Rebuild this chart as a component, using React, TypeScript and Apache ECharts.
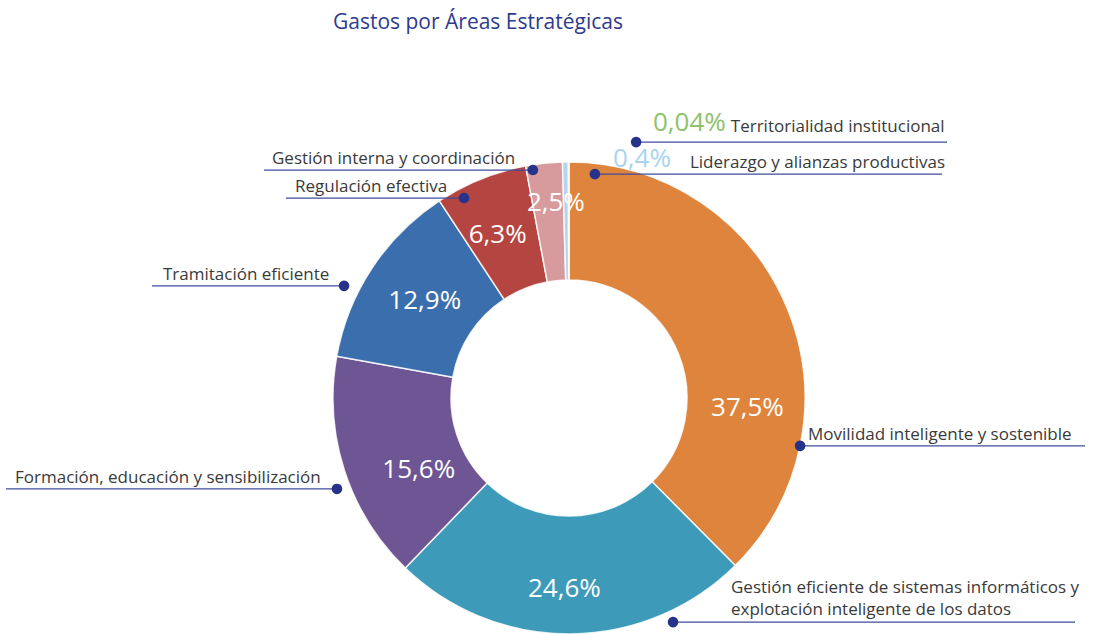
import React, { useEffect, useRef } from "react";
import * as echarts from "echarts";

// ---- data ----
const categories = [
  "Movilidad inteligente y sostenible",
  "Gestión eficiente de sistemas informáticos y\nexplotación inteligente de los datos",
  "Formación, educación y sensibilización",
  "Tramitación eficiente",
  "Regulación efectiva",
  "Gestión interna y coordinación",
  "Liderazgo y alianzas productivas",
  "Territorialidad institucional",
];
const values = [37.5, 24.6, 15.6, 12.9, 6.3, 2.5, 0.4, 0.04];
const percentTexts = ["37,5%", "24,6%", "15,6%", "12,9%", "6,3%", "2,5%", "0,4%", "0,04%"];
const insideLabelShown = [true, true, true, true, true, true, false, false];
const colors = ["#DE843C", "#3D9AB8", "#6E5593", "#3B6EAD", "#B44541", "#D79B9D", "#B9D3EA", "#8DC26B"];

// ---- layout (styles / positions) ----
const W = 1093;
const H = 634;
const CX = 569;
const CY = 398;
const R_OUT = 236;
const R_IN = 118;
const FONT = "'Open Sans', sans-serif";
const NAVY = "#27338A";
const LINE = "#3E4B9C";
const TEXT = "#3A3A3A";

// inside percentage label nudges
const insideNudge: number[][] = [[12, 77], [-6, 9], [21, 15], [6, 0], [-4, 2], [6, -18], [0, 0], [0, 0]];

// callouts: dot at angle (deg clockwise from top) and radius factor, text start, far end of the underline
const callouts = [
  { angle: 101.7, rf: 1.0, textX: 808, end: 1085, lift: 4 },
  { angle: 155.1, rf: 1.047, textX: 731, end: 1075, lift: 5 },
  { angle: 248.6, rf: 1.056, textX: 15, end: 6, lift: 4 },
  { angle: 296.5, rf: 1.065, textX: 163, end: 152, lift: 4 },
  { angle: 332.3, rf: 0.957, textX: 295, end: 286, lift: 4 },
  { angle: 351, rf: 0.978, textX: 272, end: 264, lift: 4 },
  { angle: 6.6, rf: 0.955, textX: 613, end: 942, lift: 4 },
  { angle: 14.7, rf: 1.121, textX: 653, end: 947, lift: 8 },
];
const nameGap = [0, 0, 0, 0, 0, 0, 19, 5];

function dotPos(i: number): [number, number] {
  const c = callouts[i];
  const a = (c.angle * Math.PI) / 180;
  return [CX + R_OUT * c.rf * Math.sin(a), CY - R_OUT * c.rf * Math.cos(a)];
}

export default function App() {
  const ref = useRef<HTMLDivElement>(null);
  useEffect(() => {
    if (!ref.current) return;
    const chart = echarts.init(ref.current, undefined, { renderer: "svg" });

    const dataA = categories.map((name, i) => ({
      name,
      value: values[i],
      itemStyle: { color: colors[i] },
      label: { show: insideLabelShown[i] },
    }));
    const dataB = categories.map((name, i) => ({ name, value: values[i] }));

    const option: any = {
      animation: false,
      title: {
        text: "Gastos por Áreas Estratégicas",
        left: 328,
        top: 5,
        textStyle: { fontFamily: FONT, fontSize: 21, fontWeight: "normal", color: "#2E3A8C" },
      },
      series: [
        {
          type: "pie",
          center: [CX, CY],
          radius: [R_IN, R_OUT],
          startAngle: 90,
          clockwise: true,
          avoidLabelOverlap: false,
          silent: true,
          itemStyle: { borderColor: "rgba(255,255,255,0.85)", borderWidth: 1.5 },
          label: {
            position: "inside",
            formatter: (p: any) => percentTexts[p.dataIndex],
            color: "#fff",
            fontFamily: FONT,
            fontSize: 26,
          },
          labelLine: { show: false },
          labelLayout: (p: any) => {
            const n = insideNudge[p.dataIndex];
            return { dx: n[0], dy: n[1] };
          },
          data: dataA,
        },
        {
          type: "pie",
          z: 3,
          center: [CX, CY],
          radius: [R_IN, R_OUT],
          startAngle: 90,
          clockwise: true,
          avoidLabelOverlap: false,
          silent: true,
          itemStyle: { color: "rgba(0,0,0,0)", borderWidth: 0 },
          label: {
            position: "outside",
            fontFamily: FONT,
            formatter: (p: any) => {
              const i = p.dataIndex;
              const lines = categories[i].split("\n").map((s) => `{n|${s}}`).join("\n");
              if (!insideLabelShown[i]) {
                return `{p${i}|${percentTexts[i]}}{g${i}|${categories[i]}}`;
              }
              return lines;
            },
            rich: {
              n: { fontFamily: FONT, fontSize: 17, color: TEXT, lineHeight: 22, verticalAlign: "bottom" },
              p6: { fontFamily: FONT, fontSize: 26, color: "#A9D3EE", lineHeight: 28, verticalAlign: "bottom" },
              g6: { fontFamily: FONT, fontSize: 17, color: TEXT, lineHeight: 20, verticalAlign: "bottom", padding: [0, 0, 0, nameGap[6]] },
              p7: { fontFamily: FONT, fontSize: 26, color: "#8DC26B", lineHeight: 28, verticalAlign: "bottom" },
              g7: { fontFamily: FONT, fontSize: 17, color: TEXT, lineHeight: 20, verticalAlign: "bottom", padding: [0, 0, 0, nameGap[7]] },
            },
          },
          labelLine: { show: true, showAbove: true, lineStyle: { color: LINE, width: 1.3 } },
          labelLayout: (p: any) => {
            const i = p.dataIndex;
            const c = callouts[i];
            const [dx, dy] = dotPos(i);
            return {
              x: c.textX,
              y: dy - c.lift,
              align: "left",
              verticalAlign: "bottom",
              labelLinePoints: [
                [dx, dy],
                [dx, dy],
                [c.end, dy],
              ],
            };
          },
          data: dataB,
        },
      ],
      graphic: callouts.map((_, i) => {
        const [x, y] = dotPos(i);
        return { type: "circle", z: 100, shape: { cx: x, cy: y, r: 5.3 }, style: { fill: NAVY } };
      }),
    };
    chart.setOption(option);
    return () => chart.dispose();
  }, []);
  return (
    <div
      ref={ref}
      style={{ position: "absolute", left: 0, top: 0, width: W, height: H, background: "#fff" }}
    />
  );
}
